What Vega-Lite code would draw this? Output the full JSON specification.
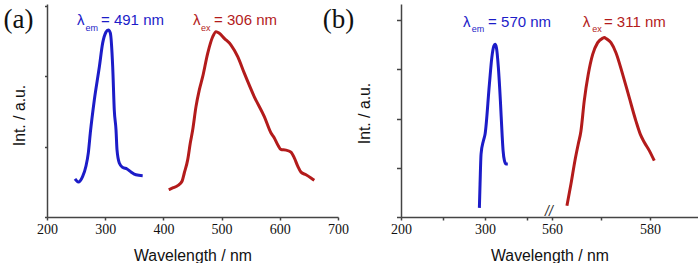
{
  "$schema": "https://vega.github.io/schema/vega-lite/v6.json",
  "background": "white",
  "padding": {"left": 3, "top": 4, "right": 0, "bottom": 0},
  "bounds": "flush",
  "spacing": 63,
  "config": {
    "view": {"stroke": null},
    "axis": {
      "grid": false, "domainColor": "#444", "tickColor": "#444", "domainWidth": 1.5, "tickWidth": 1.5,
      "labelFont": "Liberation Serif", "labelFontSize": 14, "labelColor": "#111",
      "titleFont": "Liberation Sans", "titleFontSize": 15.8, "titleFontWeight": "normal", "titleColor": "#111",
      "labelFlush": false, "labelOverlap": false
    }
  },
  "datasets": {
    "specA": [
      {"series": "em", "wl": 248.1, "int": 2.16}, {"series": "em", "wl": 253.8, "int": 1.99}, {"series": "em", "wl": 261.3, "int": 2.31},
      {"series": "em", "wl": 267.0, "int": 2.90}, {"series": "em", "wl": 271.0, "int": 3.64}, {"series": "em", "wl": 274.4, "int": 4.77},
      {"series": "em", "wl": 281.3, "int": 6.65}, {"series": "em", "wl": 289.9, "int": 8.52}, {"series": "em", "wl": 295.7, "int": 9.89},
      {"series": "em", "wl": 301.4, "int": 10.51}, {"series": "em", "wl": 305.3, "int": 10.63}, {"series": "em", "wl": 308.8, "int": 10.45},
      {"series": "em", "wl": 312.9, "int": 8.52}, {"series": "em", "wl": 315.6, "int": 6.08}, {"series": "em", "wl": 318.6, "int": 4.94},
      {"series": "em", "wl": 320.3, "int": 3.81}, {"series": "em", "wl": 324.2, "int": 3.07}, {"series": "em", "wl": 330.0, "int": 2.82},
      {"series": "em", "wl": 337.5, "int": 2.73}, {"series": "em", "wl": 344.3, "int": 2.56}, {"series": "em", "wl": 352.9, "int": 2.40},
      {"series": "em", "wl": 364.4, "int": 2.35},
      {"series": "ex", "wl": 409.1, "int": 1.55}, {"series": "ex", "wl": 416.0, "int": 1.65}, {"series": "ex", "wl": 424.6, "int": 1.78},
      {"series": "ex", "wl": 432.0, "int": 2.03}, {"series": "ex", "wl": 435.9, "int": 2.50}, {"series": "ex", "wl": 441.8, "int": 3.26},
      {"series": "ex", "wl": 446.2, "int": 4.20}, {"series": "ex", "wl": 450.3, "int": 4.94}, {"series": "ex", "wl": 456.0, "int": 6.27},
      {"series": "ex", "wl": 461.7, "int": 7.22}, {"series": "ex", "wl": 467.5, "int": 7.97}, {"series": "ex", "wl": 476.1, "int": 9.30},
      {"series": "ex", "wl": 484.7, "int": 10.24}, {"series": "ex", "wl": 490.4, "int": 10.53}, {"series": "ex", "wl": 496.0, "int": 10.44},
      {"series": "ex", "wl": 504.6, "int": 10.15}, {"series": "ex", "wl": 516.2, "int": 9.77}, {"series": "ex", "wl": 527.7, "int": 9.11},
      {"series": "ex", "wl": 539.0, "int": 8.17}, {"series": "ex", "wl": 556.2, "int": 6.83}, {"series": "ex", "wl": 573.4, "int": 5.70},
      {"series": "ex", "wl": 584.9, "int": 4.77}, {"series": "ex", "wl": 590.6, "int": 4.49}, {"series": "ex", "wl": 596.4, "int": 4.11},
      {"series": "ex", "wl": 602.1, "int": 3.83}, {"series": "ex", "wl": 610.7, "int": 3.80}, {"series": "ex", "wl": 619.2, "int": 3.68},
      {"series": "ex", "wl": 624.9, "int": 3.36}, {"series": "ex", "wl": 630.8, "int": 2.89}, {"series": "ex", "wl": 636.4, "int": 2.55},
      {"series": "ex", "wl": 645.0, "int": 2.40}, {"series": "ex", "wl": 653.6, "int": 2.22}, {"series": "ex", "wl": 659.3, "int": 2.09}
    ],
    "specB": [
      {"series": "em", "wl": 293.2, "int": 0.37}, {"series": "em", "wl": 294.0, "int": 1.34}, {"series": "em", "wl": 295.2, "int": 2.56},
      {"series": "em", "wl": 298.0, "int": 3.10}, {"series": "em", "wl": 300.0, "int": 3.37}, {"series": "em", "wl": 305.1, "int": 5.39},
      {"series": "em", "wl": 308.0, "int": 6.48}, {"series": "em", "wl": 310.4, "int": 6.95}, {"series": "em", "wl": 311.9, "int": 7.02},
      {"series": "em", "wl": 313.5, "int": 6.88}, {"series": "em", "wl": 315.8, "int": 6.07}, {"series": "em", "wl": 318.2, "int": 4.72},
      {"series": "em", "wl": 320.2, "int": 3.37}, {"series": "em", "wl": 321.4, "int": 2.70}, {"series": "em", "wl": 323.0, "int": 2.29},
      {"series": "em", "wl": 325.0, "int": 2.15}, {"series": "em", "wl": 327.0, "int": 2.15},
      {"series": "ex", "wl": 563.06, "int": 0.46}, {"series": "ex", "wl": 563.88, "int": 1.34}, {"series": "ex", "wl": 564.69, "int": 2.29},
      {"series": "ex", "wl": 565.37, "int": 2.97}, {"series": "ex", "wl": 565.92, "int": 3.50}, {"series": "ex", "wl": 566.59, "int": 4.72},
      {"series": "ex", "wl": 567.41, "int": 5.80}, {"series": "ex", "wl": 568.31, "int": 6.61}, {"series": "ex", "wl": 569.33, "int": 7.09},
      {"series": "ex", "wl": 570.35, "int": 7.27}, {"series": "ex", "wl": 570.7, "int": 7.3}, {"series": "ex", "wl": 571.02, "int": 7.26},
      {"series": "ex", "wl": 572.04, "int": 7.09}, {"series": "ex", "wl": 573.06, "int": 6.68}, {"series": "ex", "wl": 574.43, "int": 5.80},
      {"series": "ex", "wl": 575.78, "int": 4.85}, {"series": "ex", "wl": 577.14, "int": 3.90}, {"series": "ex", "wl": 578.02, "int": 3.37},
      {"series": "ex", "wl": 578.84, "int": 3.04}, {"series": "ex", "wl": 579.86, "int": 2.70}, {"series": "ex", "wl": 580.88, "int": 2.29}
    ],
    "labA": [
      {"series": "em", "role": "main", "t": "λ", "wl": 251.5, "int": 10.91},
      {"series": "em", "role": "sub", "t": "em", "wl": 266.2, "int": 10.57},
      {"series": "em", "role": "main", "t": "= 491 nm", "wl": 292.8, "int": 10.91},
      {"series": "ex", "role": "main", "t": "λ", "wl": 450.9, "int": 10.91},
      {"series": "ex", "role": "sub", "t": "ex", "wl": 464.8, "int": 10.57},
      {"series": "ex", "role": "main", "t": "= 306 nm", "wl": 487.0, "int": 10.91}
    ],
    "labB": [
      {"series": "em", "role": "main", "t": "λ", "wl": 273.8, "int": 7.72},
      {"series": "em", "role": "sub", "t": "em", "wl": 284.2, "int": 7.54},
      {"series": "em", "role": "main", "t": "= 570 nm", "wl": 303.6, "int": 7.72},
      {"series": "ex", "role": "main", "t": "λ", "wl": 566.3, "int": 7.72},
      {"series": "ex", "role": "sub", "t": "ex", "wl": 568.2, "int": 7.54},
      {"series": "ex", "role": "main", "t": "= 311 nm", "wl": 570.6, "int": 7.72}
    ],
    "panelA": [{"t": "(a)", "wl": 151, "int": 11.19}],
    "panelB": [{"t": "(b)", "wl": 125.6, "int": 8.01}],
    "breakB": [{"t": "//", "wl": 376, "int": 0.22}]
  },
  "hconcat": [
    {
      "width": 291,
      "height": 213,
      "layer": [
        {
          "data": {"name": "specA"},
          "mark": {"type": "line", "strokeWidth": 3, "interpolate": "monotone"},
          "encoding": {
            "x": {"field": "wl", "type": "quantitative",
              "scale": {"domain": [200, 700], "nice": false, "zero": false},
              "axis": {"title": "Wavelength / nm", "values": [200, 250, 300, 350, 400, 450, 500, 550, 600, 650, 700],
                "labelExpr": "datum.value % 100 == 0 ? datum.label : ''", "tickSize": 3, "labelPadding": 2, "titlePadding": 12,
                "labelFont": "Liberation Serif", "labelFontSize": 14}},
            "y": {"field": "int", "type": "quantitative",
              "scale": {"domain": [0, 12.1], "nice": false, "zero": false},
              "axis": {"title": "Int. / a.u.", "values": [0, 1, 2, 3, 4, 5, 6, 7, 8, 9, 10, 11, 12], "labels": false,
                "tickSize": {"condition": {"test": "datum.value % 2 == 1", "value": 4}, "value": 2.5},
                "titlePadding": 16, "titleY": 111}},
            "color": {"field": "series", "type": "nominal", "scale": {"domain": ["em", "ex"], "range": ["#1c1cc8", "#b31b1b"]}, "legend": null}
          }
        },
        {
          "data": {"name": "labA"},
          "transform": [{"filter": "datum.role == 'main'"}],
          "mark": {"type": "text", "align": "left", "baseline": "alphabetic", "font": "Liberation Sans", "fontSize": 15},
          "encoding": {
            "x": {"field": "wl", "type": "quantitative"},
            "y": {"field": "int", "type": "quantitative"},
            "text": {"field": "t"},
            "color": {"field": "series", "type": "nominal", "legend": null}
          }
        },
        {
          "data": {"name": "labA"},
          "transform": [{"filter": "datum.role == 'sub'"}],
          "mark": {"type": "text", "align": "left", "baseline": "alphabetic", "font": "Liberation Sans", "fontSize": 9},
          "encoding": {
            "x": {"field": "wl", "type": "quantitative"},
            "y": {"field": "int", "type": "quantitative"},
            "text": {"field": "t"},
            "color": {"field": "series", "type": "nominal", "legend": null}
          }
        },
        {
          "data": {"name": "panelA"},
          "mark": {"type": "text", "align": "center", "baseline": "middle", "font": "Liberation Serif", "fontSize": 27, "color": "#111"},
          "encoding": {
            "x": {"field": "wl", "type": "quantitative"},
            "y": {"field": "int", "type": "quantitative"},
            "text": {"field": "t"}
          }
        }
      ]
    },
    {
      "width": 297,
      "height": 213,
      "layer": [
        {
          "data": {"name": "specB"},
          "mark": {"type": "line", "strokeWidth": 3, "interpolate": "monotone"},
          "encoding": {
            "x": {"field": "wl", "type": "quantitative",
              "scale": {"domain": [200, 376, 559.4, 589.8], "range": [0, 148, 148, 297], "nice": false, "zero": false},
              "axis": {"title": "Wavelength / nm", "values": [200, 250, 300, 350, 560, 570, 580],
                "labelExpr": "indexof([200, 300, 560, 580], datum.value) >= 0 ? datum.label : ''", "tickSize": 3, "labelPadding": 2, "titlePadding": 12,
                "labelFont": "Liberation Serif", "labelFontSize": 14}},
            "y": {"field": "int", "type": "quantitative",
              "scale": {"domain": [0, 8.66], "nice": false, "zero": false},
              "axis": {"title": "Int. / a.u.", "values": [0, 1, 2, 3, 4, 5, 6, 7, 8], "labels": false,
                "tickSize": {"condition": {"test": "datum.value % 2 == 0", "value": 4.5}, "value": 2.5},
                "titlePadding": 23, "titleY": 109}},
            "color": {"field": "series", "type": "nominal", "scale": {"domain": ["em", "ex"], "range": ["#1c1cc8", "#b31b1b"]}, "legend": null}
          }
        },
        {
          "data": {"name": "labB"},
          "transform": [{"filter": "datum.role == 'main'"}],
          "mark": {"type": "text", "align": "left", "baseline": "alphabetic", "font": "Liberation Sans", "fontSize": 15},
          "encoding": {
            "x": {"field": "wl", "type": "quantitative"},
            "y": {"field": "int", "type": "quantitative"},
            "text": {"field": "t"},
            "color": {"field": "series", "type": "nominal", "legend": null}
          }
        },
        {
          "data": {"name": "labB"},
          "transform": [{"filter": "datum.role == 'sub'"}],
          "mark": {"type": "text", "align": "left", "baseline": "alphabetic", "font": "Liberation Sans", "fontSize": 9},
          "encoding": {
            "x": {"field": "wl", "type": "quantitative"},
            "y": {"field": "int", "type": "quantitative"},
            "text": {"field": "t"},
            "color": {"field": "series", "type": "nominal", "legend": null}
          }
        },
        {
          "data": {"name": "panelB"},
          "mark": {"type": "text", "align": "center", "baseline": "middle", "font": "Liberation Serif", "fontSize": 27, "color": "#111"},
          "encoding": {
            "x": {"field": "wl", "type": "quantitative"},
            "y": {"field": "int", "type": "quantitative"},
            "text": {"field": "t"}
          }
        },
        {
          "data": {"name": "breakB"},
          "mark": {"type": "text", "align": "center", "baseline": "middle", "font": "Liberation Sans", "fontSize": 14, "fontStyle": "italic", "color": "#333"},
          "encoding": {
            "x": {"field": "wl", "type": "quantitative"},
            "y": {"field": "int", "type": "quantitative"},
            "text": {"field": "t"}
          }
        }
      ]
    }
  ]
}
